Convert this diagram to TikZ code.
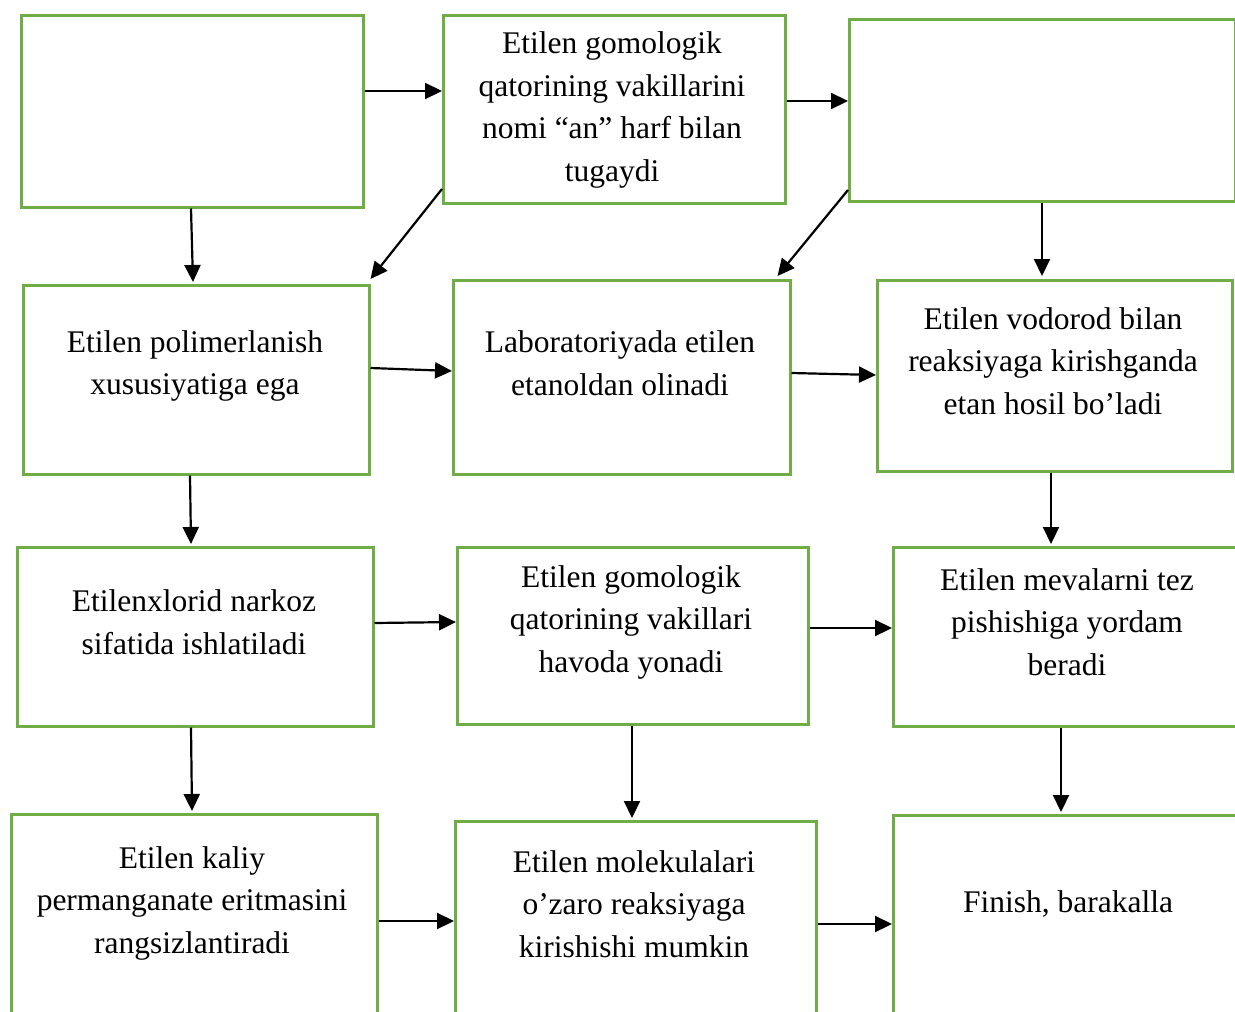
\documentclass[tikz,border=0pt]{standalone}
\usepackage{fontspec}
\setmainfont{Liberation Serif}
\usetikzlibrary{arrows.meta,calc}
\definecolor{boxgreen}{HTML}{70AD47}
\tikzset{
  card/.style={draw=boxgreen, line width=2.5pt, fill=white, rectangle, anchor=north west, inner sep=0pt},
  caption/.style={align=center, font=\fontsize{31.5}{42.5}\selectfont, inner sep=0pt},
  arr/.style={draw=black, line width=2.2pt, -{Triangle[length=17pt,width=16pt]}}
}
\newcommand{\card}[5]{\node[card, minimum width=#4pt, minimum height=#5pt] (#1) at (#2,#3) {};}
\begin{document}
\begin{tikzpicture}[x=1pt,y=-1pt]
\useasboundingbox (0,0) rectangle (1235,1012);
\clip (0,0) rectangle (1235,1012);
% boxes: name, left, top, width, height
\card{A}{20}{14}{342}{192}
\card{B}{442}{14}{342}{188}
\card{C}{848}{18}{386}{182}
\card{D}{22}{284}{346}{189}
\card{E}{452}{279}{337}{194}
\card{F}{876}{279}{355}{191}
\card{G}{16}{546}{356}{179}
\card{H}{456}{546}{351}{177}
\card{I}{892}{546}{360}{179}
\card{J}{10}{813}{366}{240}
\card{K}{454}{820}{361}{240}
\card{L}{892}{814}{360}{240}
% captions
\node[caption] (tB) at (612,110) {Etilen gomologik\\qatorining vakillarini\\nomi “an” harf bilan\\tugaydi};
\node[caption] (tD) at (195,366) {Etilen polimerlanish\\xususiyatiga ega};
\node[caption] (tE) at (620,363) {Laboratoriyada etilen\\etanoldan olinadi};
\node[caption] (tF) at (1053,361) {Etilen vodorod bilan\\reaksiyaga kirishganda\\etan hosil bo’ladi};
\node[caption] (tG) at (194,622) {Etilenxlorid narkoz\\sifatida ishlatiladi};
\node[caption] (tH) at (631,622) {Etilen gomologik\\qatorining vakillari\\havoda yonadi};
\node[caption] (tI) at (1067,622) {Etilen mevalarni tez\\pishishiga yordam\\beradi};
\node[caption] (tJ) at (192,903) {Etilen kaliy\\permanganate eritmasini\\rangsizlantiradi};
\node[caption] (tK) at (634,904) {Etilen molekulalari\\o’zaro reaksiyaga\\kirishishi mumkin};
\node[caption] (tL) at (1068,904) {Finish, barakalla};
% connectors
\draw[arr] (A.east |- 0,91) -- (B.west |- 0,91);
\draw[arr] (B.east |- 0,101) -- (C.west |- 0,101);
\draw[arr] (A.south -| 191,0) -- ($(D.north -| 193,0)+(0,-2)$);
\draw[arr] (B.west |- 0,189) -- ($(D.north east)+(0,-5)$);
\draw[arr] (C.west |- 0,190) -- ($(E.north east)+(-14,-3)$);
\draw[arr] (C.south -| 1042,0) -- ($(F.north -| 1042,0)+(0,-3)$);
\draw[arr] (D.east |- 0,368) -- (E.west |- 0,371);
\draw[arr] (E.east |- 0,373) -- (F.west |- 0,375);
\draw[arr] (D.south -| 190,0) -- ($(G.north -| 191,0)+(0,-2)$);
\draw[arr] (F.south -| 1051,0) -- ($(I.north -| 1051,0)+(0,-2)$);
\draw[arr] (G.east |- 0,623) -- (H.west |- 0,622);
\draw[arr] (H.east |- 0,628) -- (I.west |- 0,628);
\draw[arr] (G.south -| 191,0) -- ($(J.north -| 192,0)+(0,-2)$);
\draw[arr] (H.south -| 632,0) -- ($(K.north -| 632,0)+(0,-2)$);
\draw[arr] (I.south -| 1061,0) -- ($(L.north -| 1061,0)+(0,-2)$);
\draw[arr] (J.east |- 0,921) -- (K.west |- 0,921);
\draw[arr] (K.east |- 0,924) -- (L.west |- 0,924);
\end{tikzpicture}
\end{document}
